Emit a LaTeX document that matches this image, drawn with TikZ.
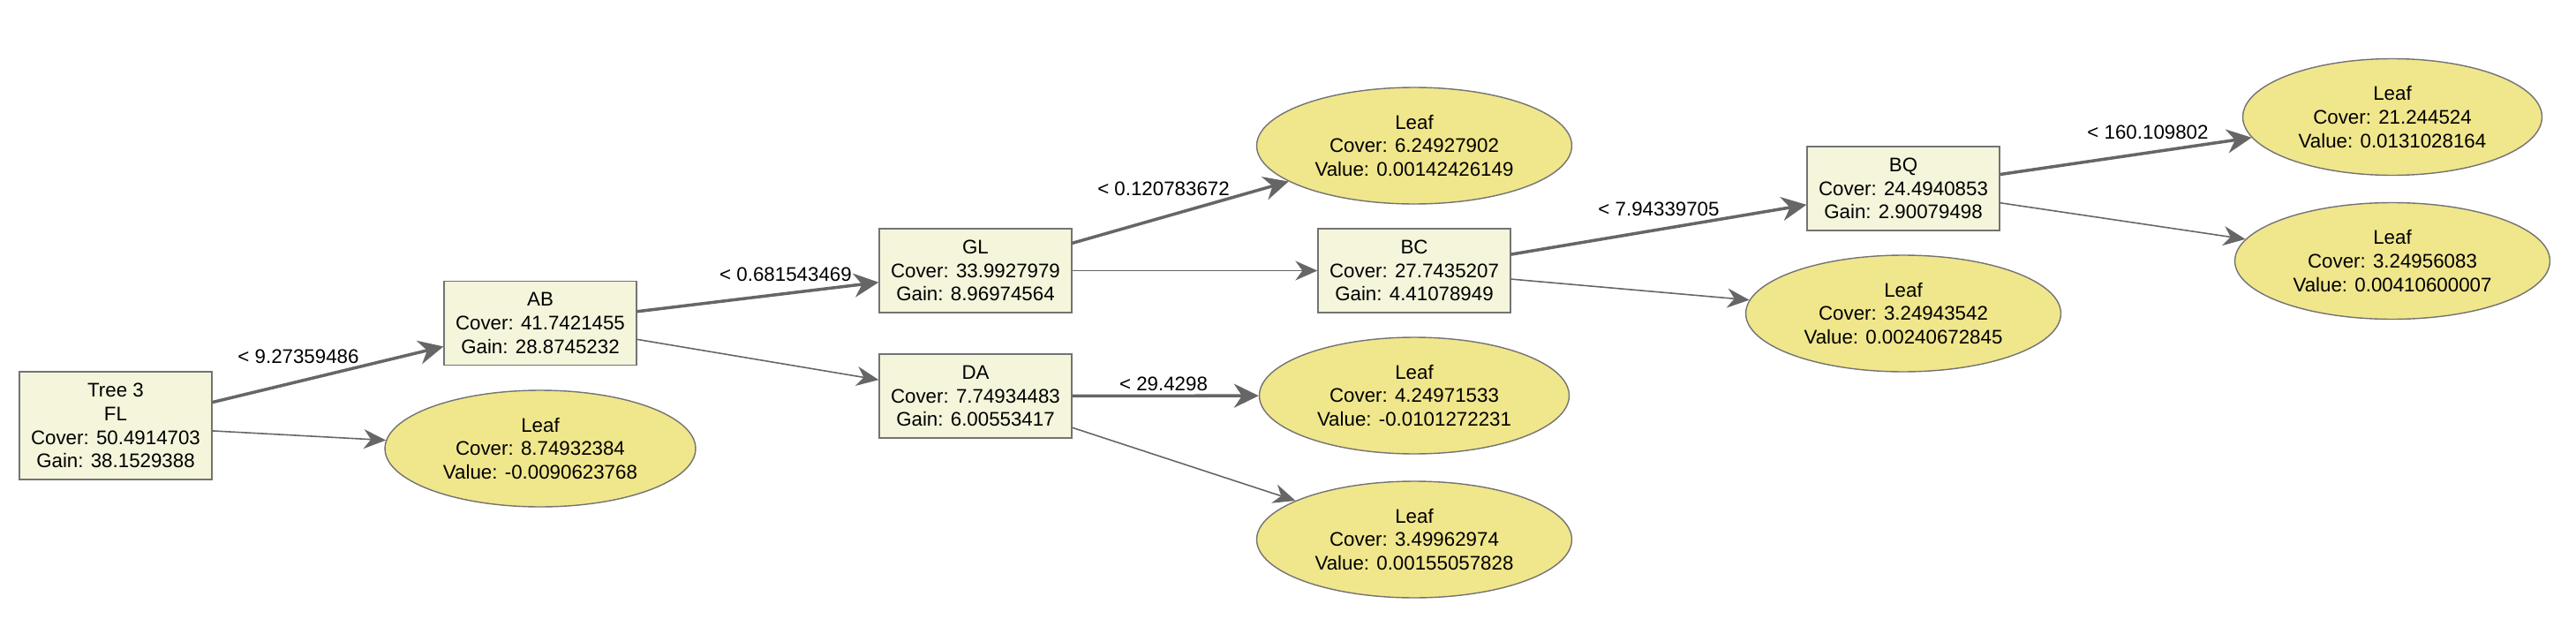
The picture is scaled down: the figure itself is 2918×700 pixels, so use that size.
\documentclass[tikz,border=0pt]{standalone}
\usepackage{fontspec}
\setmainfont{Liberation Sans}
\usepackage{tikz}
\definecolor{boxfill}{RGB}{245,245,220}
\definecolor{leaffill}{RGB}{240,230,140}
\definecolor{edgegray}{RGB}{102,102,102}
\definecolor{bordergray}{RGB}{115,115,115}
\usetikzlibrary{arrows.meta,shapes.geometric}
\tikzset{%
  split/.style={draw=bordergray, line width=0.8pt, fill=boxfill, rectangle,
    minimum width=4.36cm, minimum height=1.9cm, align=center, inner sep=2pt,
    font=\fontsize{12.7}{15.2}\selectfont},% split node
  leaf/.style={draw=bordergray, line width=0.8pt, fill=leaffill, ellipse,
    minimum width=7.14cm, minimum height=2.64cm, align=center, inner sep=0pt,
    font=\fontsize{12.7}{15.2}\selectfont},% leaf node
  yes/.style={draw=edgegray, line width=2pt,
    -{Stealth[length=0.56cm, width=0.54cm, inset=0.18cm]}},% thick branch
  no/.style={draw=edgegray, line width=0.9pt,
    -{Stealth[length=0.5cm, width=0.44cm, inset=0.16cm]}},% thin branch
  cond/.style={inner sep=0pt, font=\fontsize{12.7}{15.2}\selectfont}% edge condition
}

\begin{document}
\begin{tikzpicture}[x=0.02cm, y=-0.02cm]
\useasboundingbox (0,0) rectangle (2918,700);

\node[split, minimum height=2.44cm] (tree) at (131, 482) {Tree 3\\FL\\Cover: 50.4914703\\Gain: 38.1529388};
\node[split] (ab) at (612, 366) {AB\\Cover: 41.7421455\\Gain: 28.8745232};
\node[leaf, minimum width=7.04cm] (l1) at (612, 508) {Leaf\\Cover: 8.74932384\\Value: -0.0090623768};
\node[split] (gl) at (1105, 306.5) {GL\\Cover: 33.9927979\\Gain: 8.96974564};
\node[split] (da) at (1105, 448.5) {DA\\Cover: 7.74934483\\Gain: 6.00553417};
\node[leaf] (l2) at (1602, 165) {Leaf\\Cover: 6.24927902\\Value: 0.00142426149};
\node[split] (bc) at (1602, 306.5) {BC\\Cover: 27.7435207\\Gain: 4.41078949};
\node[leaf, minimum width=7.02cm] (l3) at (1602, 448) {Leaf\\Cover: 4.24971533\\Value: -0.0101272231};
\node[leaf] (l4) at (1602, 611) {Leaf\\Cover: 3.49962974\\Value: 0.00155057828};
\node[split] (bq) at (2156, 213.5) {BQ\\Cover: 24.4940853\\Gain: 2.90079498};
\node[leaf] (l5) at (2156, 355) {Leaf\\Cover: 3.24943542\\Value: 0.00240672845};
\node[leaf, minimum width=6.78cm] (l6) at (2710, 132.5) {Leaf\\Cover: 21.244524\\Value: 0.0131028164};
\node[leaf] (l7) at (2710, 295.5) {Leaf\\Cover: 3.24956083\\Value: 0.00410600007};

%%%% branches
\draw (tree) edge[yes] (ab);
\draw (tree) edge[no] (l1);
\draw (ab) edge[yes] (gl);
\draw (ab) edge[no] (da);
\draw (gl) edge[yes] (l2);
\draw (gl) edge[no] (bc);
\draw (da) edge[yes] (l3);
\draw (da) edge[no] (l4);
\draw (bc) edge[yes] (bq);
\draw (bc) edge[no] (l5);
\draw (bq) edge[yes] (l6);
\draw (bq) edge[no] (l7);

%%%% conditions
\node[cond] (c1) at (338, 404) {< 9.27359486};
\node[cond] (c2) at (890, 311) {< 0.681543469};
\node[cond] (c3) at (1318, 214) {< 0.120783672};
\node[cond] (c4) at (1879, 237) {< 7.94339705};
\node[cond] (c5) at (1318, 435) {< 29.4298};
\node[cond] (c6) at (2433, 150) {< 160.109802};

\end{tikzpicture}
\end{document}
